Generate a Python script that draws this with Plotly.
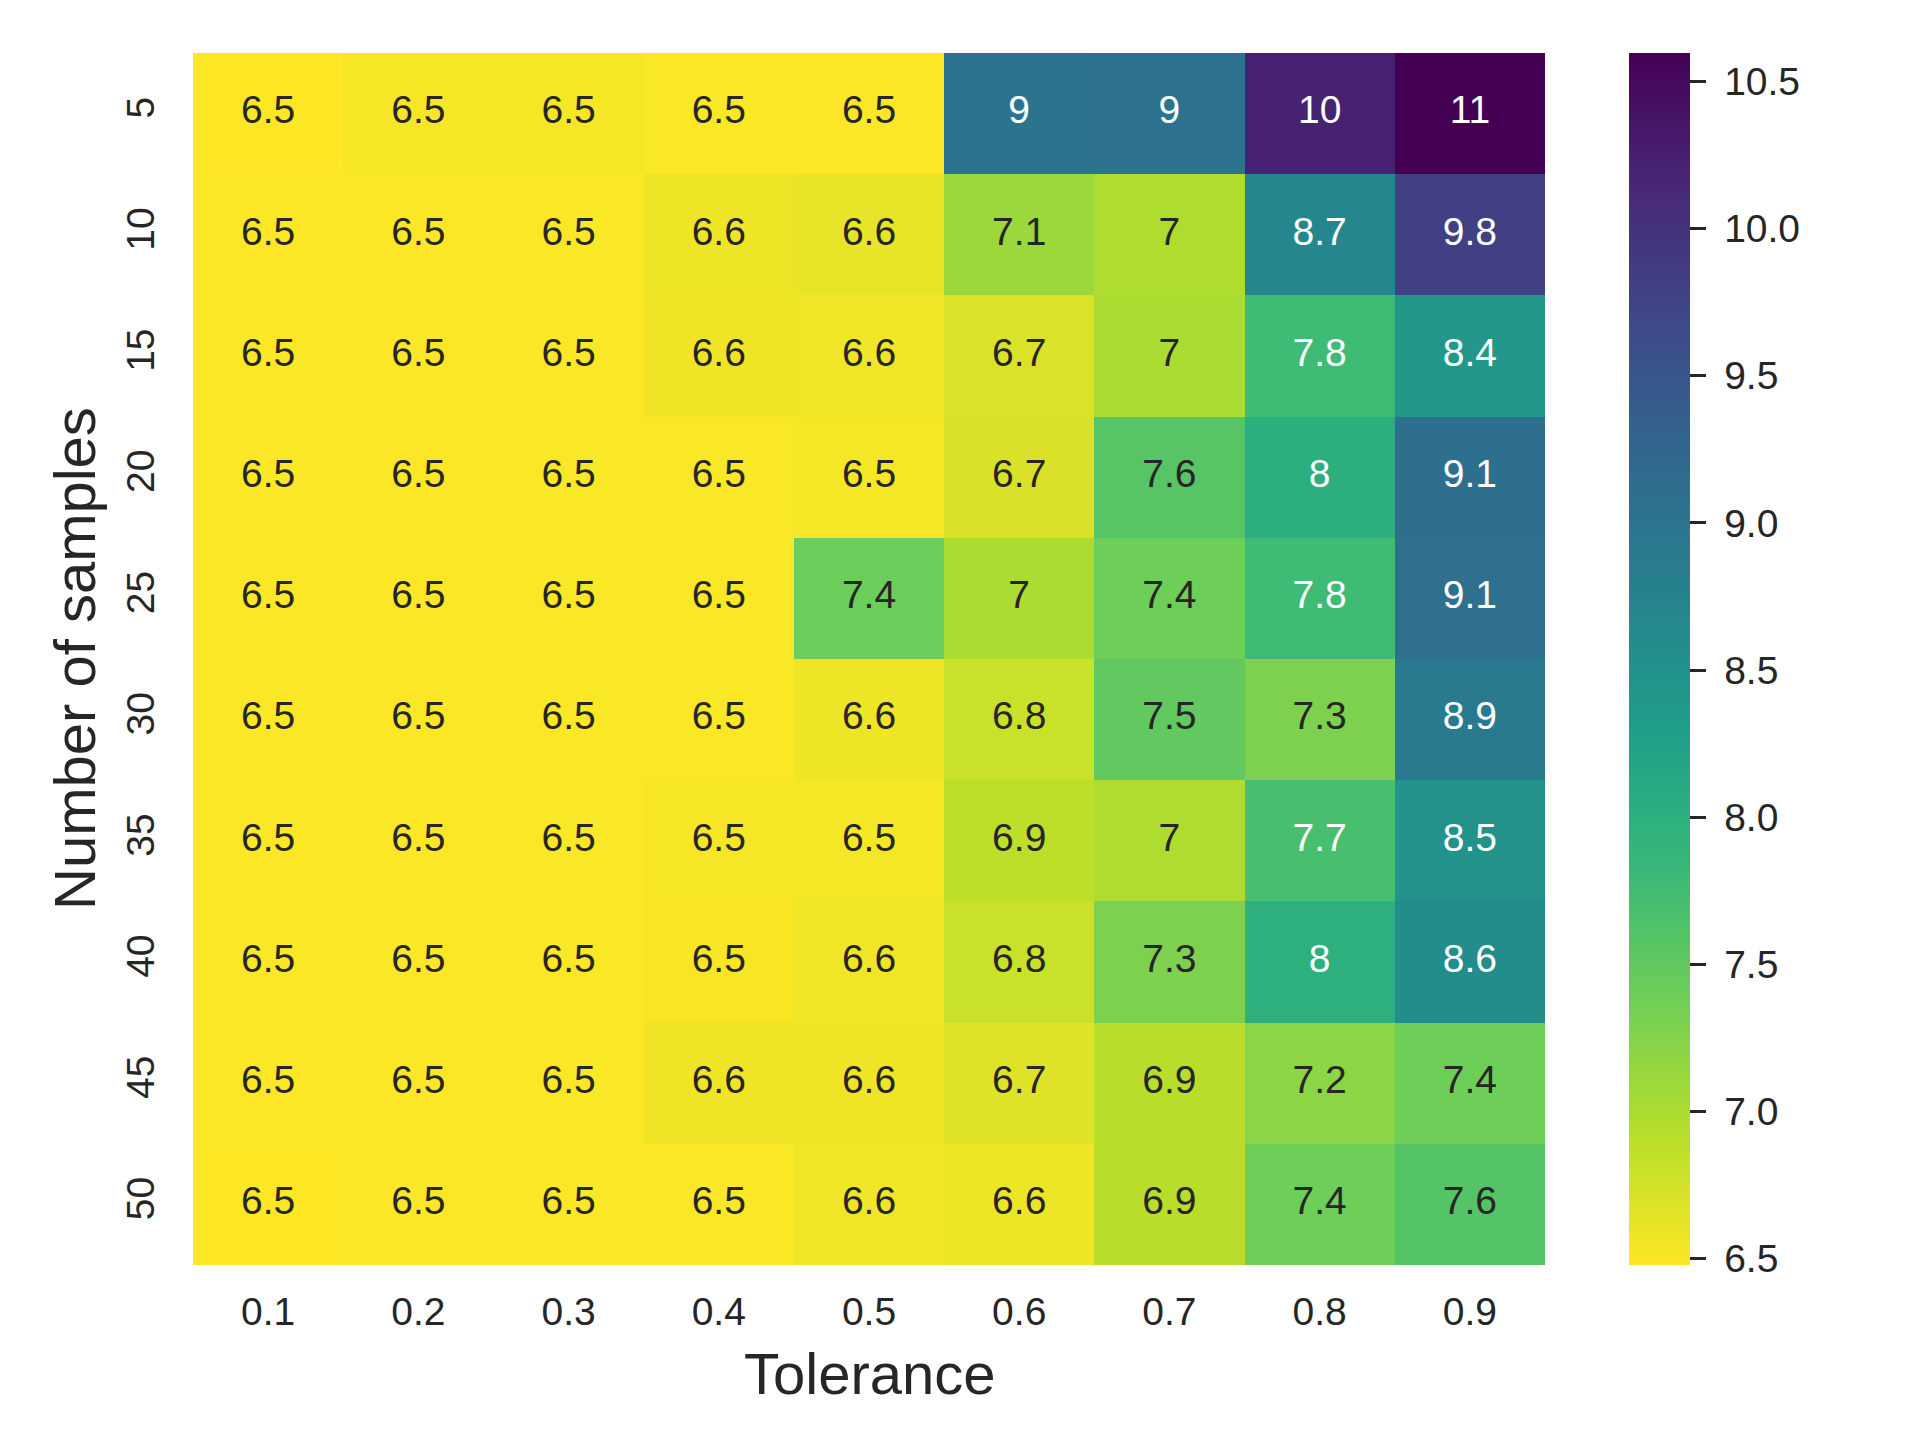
import plotly.graph_objects as go
from plotly.colors import sample_colorscale, unlabel_rgb

# tolerance on x, number of samples on y (5 at the top)
tolerance = ["0.1", "0.2", "0.3", "0.4", "0.5", "0.6", "0.7", "0.8", "0.9"]
samples = ["5", "10", "15", "20", "25", "30", "35", "40", "45", "50"]

row_5 = [6.479, 6.52, 6.53, 6.50, 6.49, 9.02, 9.04, 10.22, 10.596]
row_10 = [6.49, 6.49, 6.50, 6.58, 6.61, 7.10, 6.98, 8.68, 9.80]
row_15 = [6.49, 6.49, 6.50, 6.57, 6.56, 6.70, 7.00, 7.78, 8.41]
row_20 = [6.49, 6.49, 6.50, 6.50, 6.53, 6.71, 7.58, 8.02, 9.10]
row_25 = [6.49, 6.49, 6.50, 6.50, 7.42, 7.00, 7.40, 7.78, 9.08]
row_30 = [6.49, 6.49, 6.50, 6.50, 6.58, 6.80, 7.50, 7.30, 8.90]
row_35 = [6.49, 6.49, 6.50, 6.52, 6.53, 6.88, 6.98, 7.70, 8.50]
row_40 = [6.49, 6.49, 6.50, 6.51, 6.56, 6.80, 7.30, 8.00, 8.58]
row_45 = [6.49, 6.49, 6.50, 6.57, 6.57, 6.67, 6.92, 7.20, 7.40]
row_50 = [6.48, 6.49, 6.50, 6.50, 6.56, 6.58, 6.92, 7.40, 7.60]

z = [row_5, row_10, row_15, row_20, row_25, row_30, row_35, row_40, row_45, row_50]

cbar_ticks = [6.5, 7.0, 7.5, 8.0, 8.5, 9.0, 9.5, 10.0, 10.5]

FONT = "Liberation Sans, Arial, sans-serif"
DARK = "#262626"

zmin = min(min(r) for r in z)
zmax = max(max(r) for r in z)


def text_color(v):
    # same rule seaborn uses: white text on dark cells
    t = (v - zmin) / (zmax - zmin)
    r, g, b = unlabel_rgb(sample_colorscale("Viridis_r", [t])[0])
    lin = []
    for c in (r / 255, g / 255, b / 255):
        lin.append(c / 12.92 if c <= 0.03928 else ((c + 0.055) / 1.055) ** 2.4)
    lum = 0.2126 * lin[0] + 0.7152 * lin[1] + 0.0722 * lin[2]
    return "white" if lum <= 0.408 else DARK


xs, ys, vals, cols = [], [], [], []
for i, s in enumerate(samples):
    for j, tol in enumerate(tolerance):
        xs.append(tol)
        ys.append(s)
        vals.append(z[i][j])
        cols.append(text_color(z[i][j]))

fig = go.Figure()

fig.add_trace(go.Heatmap(
    x=tolerance,
    y=samples,
    z=z,
    colorscale="Viridis_r",
    zmin=zmin,
    zmax=zmax,
    hoverinfo="skip",
    colorbar=dict(
        x=1.0621, xanchor="left", xpad=0,
        y=0.5, yanchor="middle", ypad=0,
        len=1, lenmode="fraction",
        thickness=61, thicknessmode="pixels",
        outlinewidth=0,
        tickmode="array",
        tickvals=cbar_ticks,
        ticktext=["\u00a0%.1f" % t for t in cbar_ticks],
        ticks="outside", ticklen=16, tickwidth=3, tickcolor=DARK,
        tickfont=dict(family=FONT, size=39, color=DARK),
    ),
))

fig.add_trace(go.Scatter(
    x=xs,
    y=ys,
    mode="text",
    text=[("%.2g" % v) for v in vals],
    textposition="middle center",
    textfont=dict(family=FONT, size=39, color=cols),
    hoverinfo="skip",
    showlegend=False,
))

fig.update_layout(
    width=1920,
    height=1440,
    margin=dict(l=185, r=383, t=45, b=183),
    paper_bgcolor="white",
    plot_bgcolor="white",
    showlegend=False,
    xaxis=dict(
        type="category",
        showgrid=False, zeroline=False, showline=False,
        ticks="outside", ticklen=12, tickcolor="rgba(0,0,0,0)",
        tickfont=dict(family=FONT, size=39, color=DARK),
        automargin=False,
    ),
    yaxis=dict(
        type="category",
        autorange="reversed",
        showgrid=False, zeroline=False, showline=False,
        ticks="outside", ticklen=22, tickcolor="rgba(0,0,0,0)",
        tickangle=-90,
        tickfont=dict(family=FONT, size=39, color=DARK),
        automargin=False,
    ),
    annotations=[
        dict(text="Tolerance", xref="paper", yref="paper", x=0.5, y=0,
             yshift=-108, xanchor="center", yanchor="middle", showarrow=False,
             font=dict(family=FONT, size=58, color=DARK)),
        dict(text="Number of samples", xref="paper", yref="paper", x=0, y=0.5,
             xshift=-119, xanchor="center", yanchor="middle", textangle=-90,
             showarrow=False, font=dict(family=FONT, size=58, color=DARK)),
    ],
)

fig.write_html("out.html")
